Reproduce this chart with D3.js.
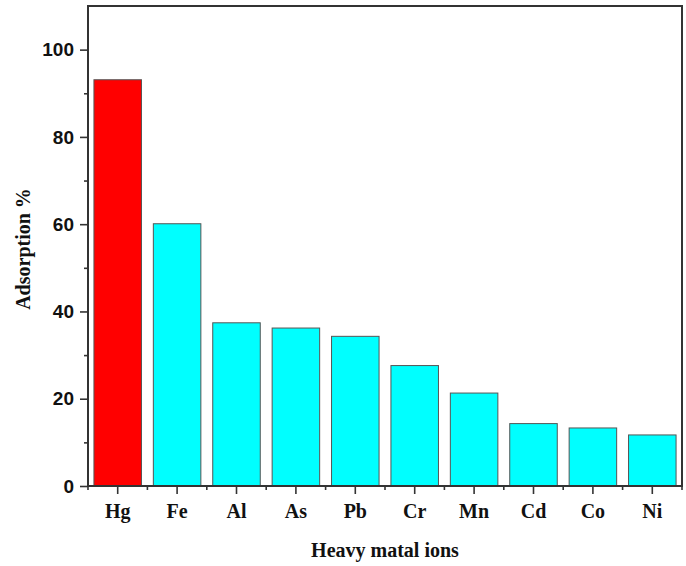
<!DOCTYPE html>
<html>
<head>
<meta charset="utf-8">
<script src="https://cdn.jsdelivr.net/npm/d3@7"></script>
<style>
  body { margin: 0; background: #fff; }
  .ytick text { font-family: "Liberation Sans", Arial, sans-serif; font-weight: bold; font-size: 19px; fill: #111; }
  .xtick text { font-family: "Liberation Serif", "Times New Roman", serif; font-weight: bold; font-size: 20px; fill: #111; }
  .title { font-family: "Liberation Serif", "Times New Roman", serif; font-weight: bold; font-size: 20px; fill: #111; }
</style>
</head>
<body>
<div id="chart"></div>
<script>
// data
var ions = ["Hg", "Fe", "Al", "As", "Pb", "Cr", "Mn", "Cd", "Co", "Ni"];
var adsorption = [93.1, 60.1, 37.4, 36.2, 34.3, 27.6, 21.3, 14.3, 13.3, 11.7];
var barColors = ["#ff0000", "#00ffff", "#00ffff", "#00ffff", "#00ffff", "#00ffff", "#00ffff", "#00ffff", "#00ffff", "#00ffff"];
var yMajor = [0, 20, 40, 60, 80, 100];
var yMinor = [10, 30, 50, 70, 90];

var data = ions.map(function (d, i) {
    return { ion: d, value: adsorption[i], color: barColors[i] };
});

var width = 686, height = 566;
var margin = { top: 6, right: 4, bottom: 80, left: 88 };
var innerWidth = width - margin.left - margin.right,
    innerHeight = height - margin.top - margin.bottom;

var svg = d3.select("#chart")
    .append("svg")
    .attr("width", width)
    .attr("height", height);

var g = svg.append("g")
    .attr("transform", "translate(" + margin.left + "," + margin.top + ")");

var xScale = d3.scaleBand()
    .domain(ions)
    .range([0, innerWidth])
    .paddingInner(0.2)
    .paddingOuter(0.1);

var yScale = d3.scaleLinear()
    .domain([0, 110])
    .range([innerHeight, 0]);

// bars
g.selectAll("rect.bar").data(data)
    .enter().append("rect")
    .attr("class", "bar")
    .attr("x", d => xScale(d.ion))
    .attr("y", d => yScale(d.value))
    .attr("width", xScale.bandwidth())
    .attr("height", d => yScale(0) - yScale(d.value))
    .attr("fill", d => d.color)
    .attr("stroke", "#555")
    .attr("stroke-width", 1);

// frame
g.append("rect")
    .attr("x", 0).attr("y", 0)
    .attr("width", innerWidth).attr("height", innerHeight)
    .attr("fill", "none")
    .attr("stroke", "#333")
    .attr("stroke-width", 2);

// y axis
var yAxis = d3.axisLeft(yScale)
    .tickValues(yMajor)
    .tickSize(8)
    .tickSizeOuter(0)
    .tickPadding(6);
var yAxisG = g.append("g").attr("class", "ytick").call(yAxis);
yAxisG.select(".domain").remove();
yAxisG.selectAll("line").attr("stroke", "#333").attr("stroke-width", 1.6);

var yMinorG = g.append("g").call(d3.axisLeft(yScale).tickValues(yMinor).tickSize(4).tickFormat(""));
yMinorG.select(".domain").remove();
yMinorG.selectAll("line").attr("stroke", "#333").attr("stroke-width", 1.6);

// x axis
var xAxis = d3.axisBottom(xScale)
    .tickSize(8)
    .tickSizeOuter(0)
    .tickPadding(10);
var xAxisG = g.append("g")
    .attr("class", "xtick")
    .attr("transform", "translate(0," + innerHeight + ")")
    .call(xAxis);
xAxisG.select(".domain").remove();
xAxisG.selectAll("line").attr("stroke", "#333").attr("stroke-width", 1.6);

// minor x ticks at category boundaries
var bounds = d3.range(ions.length + 1).map(i => i * xScale.step());
g.append("g")
    .attr("transform", "translate(0," + innerHeight + ")")
    .selectAll("line").data(bounds)
    .enter().append("line")
    .attr("x1", d => d).attr("x2", d => d)
    .attr("y1", 0).attr("y2", 4)
    .attr("stroke", "#333")
    .attr("stroke-width", 1.6);

// axis titles
svg.append("text")
    .attr("class", "title")
    .attr("x", margin.left + innerWidth / 2)
    .attr("y", 557)
    .attr("text-anchor", "middle")
    .text("Heavy matal ions");

svg.append("text")
    .attr("class", "title")
    .attr("transform", "translate(30,249) rotate(-90)")
    .attr("text-anchor", "middle")
    .text("Adsorption %");
</script>
</body>
</html>
